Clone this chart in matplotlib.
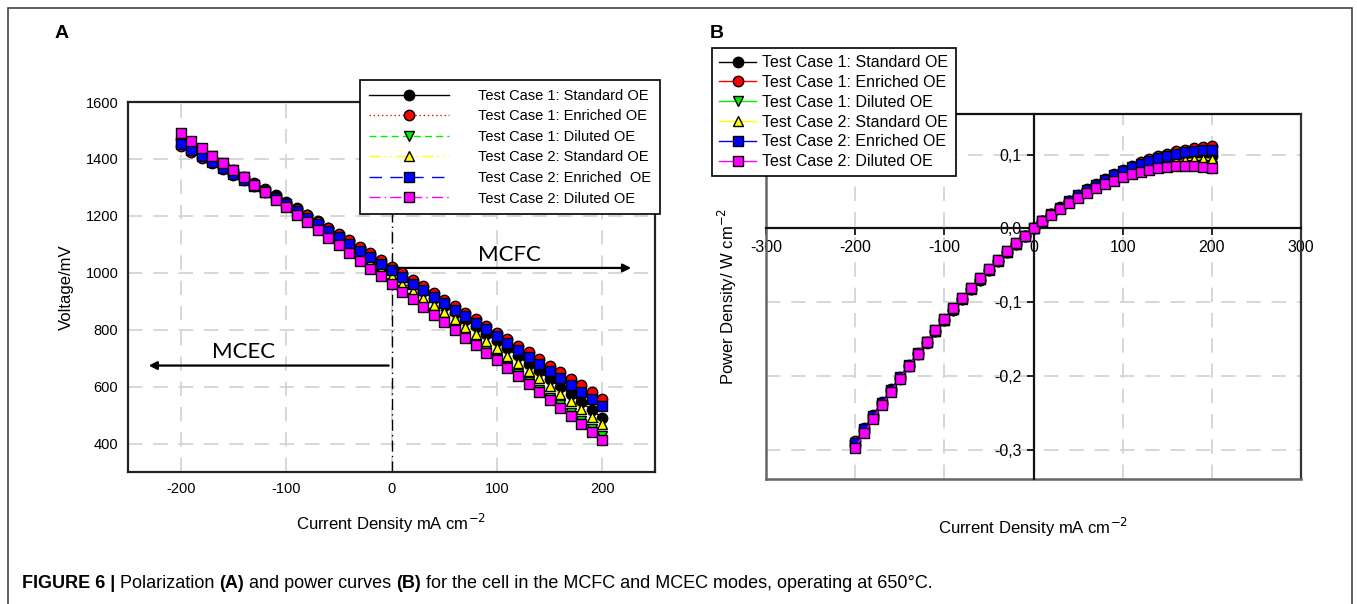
import numpy as np
import matplotlib
matplotlib.use("Agg")
import matplotlib.pyplot as plt
from matplotlib.ticker import FuncFormatter, MultipleLocator
from matplotlib.patches import Rectangle

plt.rcParams['font.family'] = ['Liberation Sans', 'DejaVu Sans']
plt.rcParams['axes.unicode_minus'] = False

W, H = 1357, 604

# current density, mA cm-2
current = np.arange(-200, 201, 10)

# voltages, mV
v_tc1_std = [1470, 1448, 1426, 1404, 1382, 1360, 1338, 1316, 1294, 1272, 1250,
             1227, 1204, 1181, 1158, 1134, 1110, 1086, 1061, 1036, 1010,
             985, 960, 935, 910, 885, 860, 835, 810, 785, 760,
             734, 708, 681, 654, 627, 600, 573, 545, 518, 490]
v_tc1_enr = [1445, 1425, 1405, 1385, 1365, 1345, 1325, 1305, 1285, 1265, 1245,
             1224, 1202, 1180, 1158, 1136, 1114, 1091, 1068, 1045, 1022,
             999, 976, 953, 930, 906, 883, 860, 837, 813, 790,
             767, 744, 721, 698, 674, 651, 628, 605, 581, 558]
v_tc1_dil = [1485, 1460, 1435, 1410, 1385, 1360, 1335, 1310, 1285, 1260, 1235,
             1208, 1181, 1154, 1127, 1100, 1073, 1046, 1019, 992, 965,
             938, 911, 884, 858, 831, 804, 777, 751, 724, 697,
             670, 643, 616, 588, 561, 534, 507, 479, 452, 425]
v_tc2_std = [1475, 1452, 1428, 1405, 1381, 1358, 1334, 1311, 1287, 1264, 1240,
             1215, 1190, 1165, 1140, 1114, 1089, 1064, 1038, 1013, 987,
             962, 937, 912, 887, 861, 836, 811, 786, 760, 735,
             709, 682, 655, 629, 602, 575, 548, 522, 495, 468]
v_tc2_enr = [1453, 1432, 1411, 1390, 1368, 1347, 1325, 1304, 1283, 1261, 1240,
             1217, 1194, 1171, 1148, 1124, 1101, 1078, 1055, 1031, 1008,
             985, 962, 939, 916, 893, 870, 847, 824, 801, 778,
             754, 730, 705, 681, 656, 631, 607, 582, 558, 533]
v_tc2_dil = [1490, 1464, 1438, 1412, 1386, 1361, 1335, 1309, 1283, 1257, 1231,
             1204, 1177, 1150, 1123, 1096, 1069, 1042, 1015, 988, 961,
             934, 907, 880, 853, 826, 799, 772, 745, 718, 692,
             664, 636, 608, 580, 552, 524, 496, 468, 440, 412]

labels_a = ['Test Case 1: Standard OE', 'Test Case 1: Enriched OE', 'Test Case 1: Diluted OE',
            'Test Case 2: Standard OE', 'Test Case 2: Enriched  OE', 'Test Case 2: Diluted OE']
labels_b = ['Test Case 1: Standard OE', 'Test Case 1: Enriched OE', 'Test Case 1: Diluted OE',
            'Test Case 2: Standard OE', 'Test Case 2: Enriched OE', 'Test Case 2: Diluted OE']

series = [v_tc1_std, v_tc1_enr, v_tc1_dil, v_tc2_std, v_tc2_enr, v_tc2_dil]
colors = ['black', 'red', '#00ee00', '#ffff00', '#0000ff', '#ff00ff']
linestyles = ['-', (0, (1, 2)), (0, (5, 3)), (0, (8, 3, 1, 3, 1, 3)), (0, (9, 6)), (0, (8, 3, 1, 3))]
markers = ['o', 'o', 'v', '^', 's', 's']

fig = plt.figure(figsize=(W / 100, H / 100), dpi=100)

# ---------- panel A: polarization ----------
ax1 = fig.add_axes([128 / W, 1 - 472 / H, 527 / W, 370 / H])
for v, lab, c, ls, m in zip(series, labels_a, colors, linestyles, markers):
    ax1.plot(current, v, color=c, ls=ls, lw=1, marker=m, markersize=7.5,
             markerfacecolor=c, markeredgecolor='black', markeredgewidth=1, label=lab, zorder=3)

ax1.axvline(0, color='black', lw=1, ls=(0, (8, 3, 1, 3)), zorder=2)
ax1.set_xlim(-250, 250)
ax1.set_ylim(300, 1600)
ax1.xaxis.set_major_locator(MultipleLocator(100))
ax1.set_yticks([400, 600, 800, 1000, 1200, 1400, 1600])
ax1.grid(True, color='#d4d4d4', ls=(0, (8, 6)), lw=1.3, zorder=0)
ax1.tick_params(length=0, labelsize=10.5, pad=7)
for s in ax1.spines.values():
    s.set_linewidth(1.6)
    s.set_color('#222222')
ax1.set_xlabel('Current Density mA cm$^{-2}$', fontsize=12, labelpad=12)
ax1.set_ylabel('Voltage/mV', fontsize=12, labelpad=8)

ax1.annotate('', xy=(230, 1017), xytext=(0, 1017),
             arrowprops=dict(arrowstyle='-|>', color='black', lw=1.6, mutation_scale=12))
ax1.annotate('', xy=(-233, 674), xytext=(0, 674),
             arrowprops=dict(arrowstyle='-|>', color='black', lw=1.6, mutation_scale=12))
ax1.text(112, 1062, 'MCFC', family='Lato', fontsize=16, ha='center', va='center')
ax1.text(-140, 722, 'MCEC', family='Lato', fontsize=16, ha='center', va='center')

leg1 = ax1.legend(loc='upper right', bbox_to_anchor=(660 / W, 1 - 80 / H),
                  bbox_transform=fig.transFigure, borderaxespad=0, fontsize=10.5,
                  handlelength=5.5, handletextpad=2.0, labelspacing=0.45,
                  fancybox=False, framealpha=1, edgecolor='black', borderpad=0.6)
leg1.get_frame().set_linewidth(1.2)
leg1.set_zorder(10)

# ---------- panel B: power ----------
ax2 = fig.add_axes([766 / W, 1 - 479 / H, 535 / W, 365 / H])
for v, lab, c, m in zip(series, labels_b, colors, markers):
    power = current * np.array(v) / 1e6
    ax2.plot(current, power, color=c, ls='-', lw=1, marker=m, markersize=7.5,
             markerfacecolor=c, markeredgecolor='black', markeredgewidth=1, label=lab, zorder=3)

ax2.set_xlim(-300, 300)
ax2.set_ylim(-0.34, 0.155)
ax2.set_xticks([-300, -200, -100, 0, 100, 200, 300])
ax2.set_yticks([-0.3, -0.2, -0.1, 0.0, 0.1])
ax2.yaxis.set_major_formatter(FuncFormatter(lambda y, p: f'{y:.1f}'.replace('.', ',')))
ax2.spines['left'].set_position(('data', 0))
ax2.spines['bottom'].set_position(('data', 0))
ax2.spines['top'].set_visible(False)
ax2.spines['right'].set_visible(False)
for s in ['left', 'bottom']:
    ax2.spines[s].set_linewidth(1.6)
    ax2.spines[s].set_color('#111111')
ax2.tick_params(direction='out', length=5, width=1.2, labelsize=11.5)
ax2.grid(True, color='#d4d4d4', ls=(0, (8, 6)), lw=1.3, zorder=0)

# outer box of panel B
ax2.plot([0, 1], [1, 1], color='#111111', lw=1.6, transform=ax2.transAxes, clip_on=False)
ax2.plot([1, 1], [0, 1], color='#333333', lw=1.6, transform=ax2.transAxes, clip_on=False)
ax2.plot([0, 0], [0, 1], color='#666666', lw=1.8, transform=ax2.transAxes, clip_on=False)
ax2.plot([0, 1], [0, 0], color='#666666', lw=1.8, transform=ax2.transAxes, clip_on=False)

ax2.set_xlabel('Current Density mA cm$^{-2}$', fontsize=12)
ax2.xaxis.set_label_coords(0.5, -0.10)
ax2.set_ylabel('Power Density/ W cm$^{-2}$', fontsize=12)
ax2.yaxis.set_label_coords(-0.05, 0.5)

leg2 = ax2.legend(loc='upper left', bbox_to_anchor=(712 / W, 1 - 48 / H),
                  bbox_transform=fig.transFigure, borderaxespad=0, fontsize=11.5,
                  handlelength=2.3, handletextpad=0.4, labelspacing=0.3,
                  fancybox=False, framealpha=1, edgecolor='black', borderpad=0.45)
leg2.get_frame().set_linewidth(1.2)
leg2.set_zorder(10)

# panel letters
fig.text(55 / W, 1 - 33 / H, 'A', fontsize=14, weight='bold', va='center')
fig.text(710 / W, 1 - 33 / H, 'B', fontsize=14, weight='bold', va='center')

# outer frame
fig.add_artist(Rectangle((8 / W, -0.01), 1344 / W, 1 - 8 / H + 0.01, transform=fig.transFigure,
                         fill=False, edgecolor='#444444', lw=1.2))

# caption with bold parts
parts = [('FIGURE 6 |', 'bold'), (' Polarization ', 'normal'), ('(A)', 'bold'),
         (' and power curves ', 'normal'), ('(B)', 'bold'),
         (' for the cell in the MCFC and MCEC modes, operating at 650°C.', 'normal')]
prev = fig.text(22 / W, 1 - 592 / H, parts[0][0], fontsize=13, weight=parts[0][1], va='bottom')
for txt, wt in parts[1:]:
    prev = ax1.annotate(txt, xy=(1, 0), xycoords=prev, fontsize=13, weight=wt,
                        va='bottom', ha='left', annotation_clip=False)

fig.savefig('out.png', dpi=100)
